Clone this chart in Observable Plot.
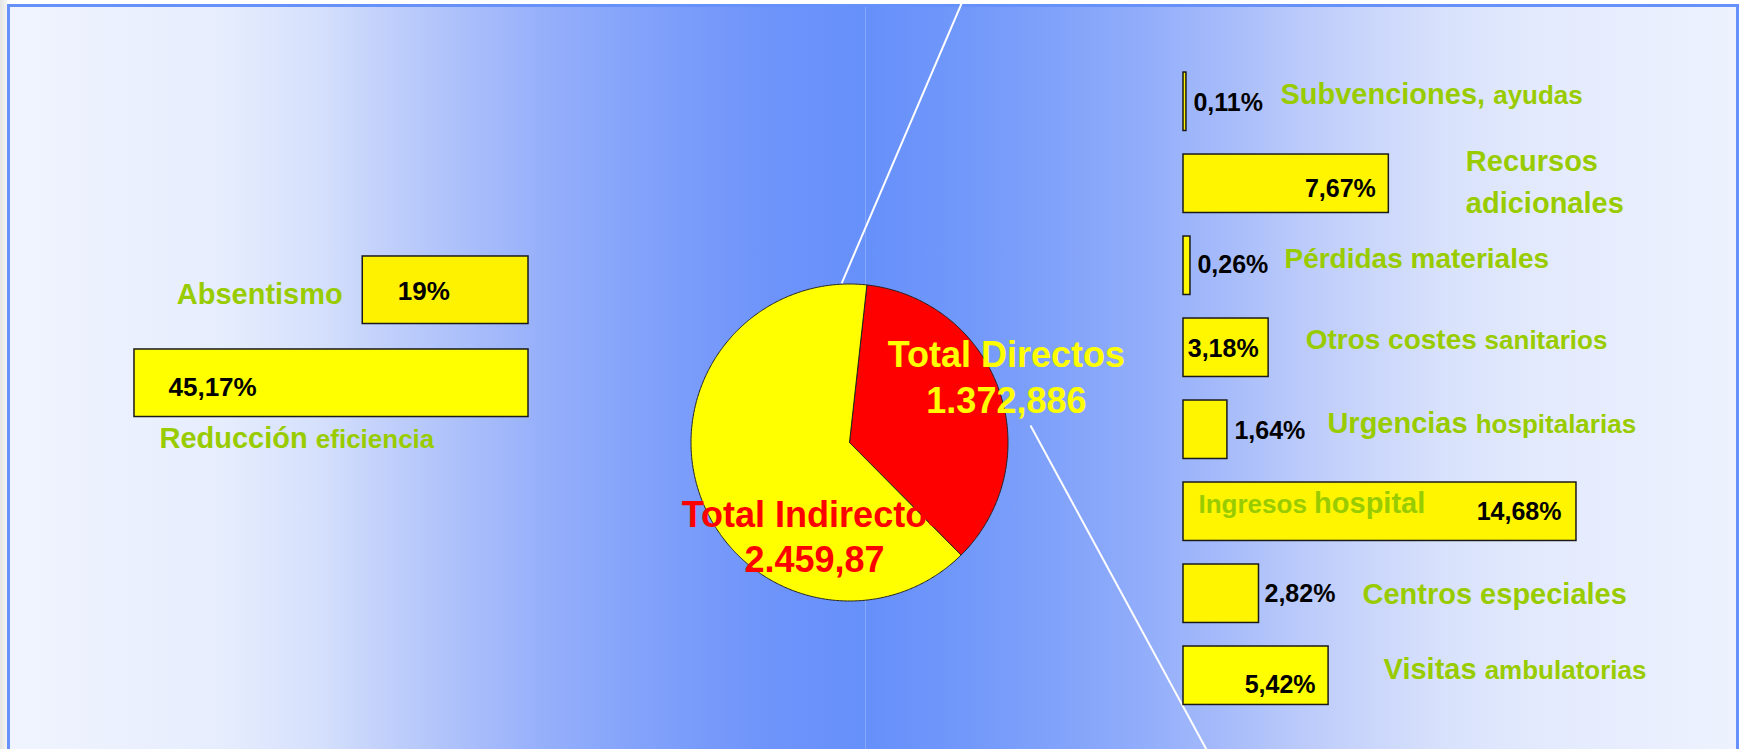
<!DOCTYPE html>
<html lang="es">
<head>
<meta charset="utf-8">
<title>Costes directos e indirectos</title>
<script src="https://cdn.jsdelivr.net/npm/d3@7"></script>
<script src="https://cdn.jsdelivr.net/npm/@observablehq/plot@0.6"></script>
<style>
html,body{margin:0;padding:0;overflow:hidden;background:#fff;}
#stage{position:relative;width:1743px;height:749px;overflow:hidden;
  background:linear-gradient(to right,#e4e4e4 0px,#f4f4f4 7px,#fff 7px);}
#panel{position:absolute;left:7px;top:4px;width:1726px;height:800px;
  border:3px solid #6690FA;border-bottom:none;
  background:linear-gradient(to right,
    #F0F4FE 0px,#E6EDFD 210px,#D5E0FC 310px,#C0CFFB 380px,#A9BEFA 460px,#97B0FA 530px,
    #88A6FA 600px,#7A9CFA 680px,#6E94FA 760px,#6690FA 855px,
    #7097FA 945px,#7FA1FA 1035px,#90ACFA 1125px,#A3B9FA 1205px,#B8C8FA 1280px,
    #CAD6FB 1360px,#D8E2FC 1435px,#E3EAFD 1530px,#EDF2FE 1726px);}
#seam{position:absolute;left:865px;top:7px;width:1px;height:742px;background:rgba(255,255,255,0.22);}
.layer{position:absolute;left:0;top:0;}
</style>
</head>
<body>
<div id="stage"><div id="panel"></div><div id="seam"></div></div>
<script>
// ---------------- data ----------------
const totalCategories = ["Total Directos", "Total Indirectos"];
const totalValues = [1372.886, 2459.87];

const indirectCategories = ["Absentismo", "Reducción eficiencia"];
const indirectShares = [19, 45.17];

const directCategories = [
  "Subvenciones, ayudas", "Recursos adicionales", "Pérdidas materiales",
  "Otros costes sanitarios", "Urgencias hospitalarias", "Ingresos hospital",
  "Centros especiales", "Visitas ambulatorias"
];
const directShares = [0.11, 7.67, 0.26, 3.18, 1.64, 14.68, 2.82, 5.42];

// ---------------- layout & style ----------------
const W = 1743, H = 749;
const FONT = "'Liberation Sans', Arial, Helvetica, sans-serif";
const GREEN = "#99CC00";
const STROKE = "#1a1a1a";
const NARROW_SCALE = 0.88;

const pieFrame = {cx: 849, cy: 442, r: 158.5, startDeg: 6.3};
const leftFrame = {zeroX: 528, pxPerUnit: 8.723, max: 50, top: 230.5, bottom: 442, padding: 0.274};
const rightFrame = {zeroX: 1183, pxPerUnit: 26.77, max: 16, top: 48.5, bottom: 728, padding: 0.287};

const sliceFill = {"Total Directos": "#FF0000", "Total Indirectos": "#FFFF00"};
const pieLabelStyle = {
  "Total Directos": {x: 0.99, y: 0.183, fill: "#FFFF00", lineHeight: 1.28},
  "Total Indirectos": {x: -0.221, y: -0.82, fill: "#FF0000", lineHeight: 1.25}
};
// connector lines of the "bar of pie", in pie-radius units
const connectorLayout = [
  {x1: -0.05, y1: 1.003, x2: 0.72, y2: 2.80},
  {x1: 1.142, y1: 0.107, x2: 2.27, y2: -1.97}
];

const barFill = {
  "Absentismo": "#FFF200", "Reducción eficiencia": "#FFFF00",
  "Subvenciones, ayudas": "#FFF200", "Recursos adicionales": "#FFF500",
  "Pérdidas materiales": "#FFF700", "Otros costes sanitarios": "#FFF700",
  "Urgencias hospitalarias": "#FFF500", "Ingresos hospital": "#FFF500",
  "Centros especiales": "#FFF500", "Visitas ambulatorias": "#FFFF00"
};

// category label placement (px offsets from the bar end, baseline offset from band centre)
const catLabelLayout = {
  "Absentismo": {anchor: "end", dx: -20, dy: 13.5, size: 29},
  "Reducción eficiencia": {anchor: "start", dx: 25, dy: 65, size: 29},
  "Subvenciones, ayudas": {anchor: "start", dx: 94, dy: 2, size: 29},
  "Recursos adicionales": {anchor: "start", dx: 77, dy: 29.5, size: 29, text: "Recursos\nadicionales", lineHeight: 1.45},
  "Pérdidas materiales": {anchor: "start", dx: 94, dy: 2, size: 28},
  "Otros costes sanitarios": {anchor: "start", dx: 37, dy: 1, size: 28},
  "Urgencias hospitalarias": {anchor: "start", dx: 100, dy: 3, size: 29},
  "Ingresos hospital": {anchor: "start", dx: 15, dy: 1, size: 29, atZero: true},
  "Centros especiales": {anchor: "start", dx: 103.5, dy: 10, size: 29},
  "Visitas ambulatorias": {anchor: "start", dx: 55, dy: 3, size: 29}
};
// mixed font sizes inside one label
const labelParts = {
  "Reducción eficiencia": [["Reducción ", 29], ["eficiencia", 26]],
  "Subvenciones, ayudas": [["Subvenciones, ", 29], ["ayudas", 26]],
  "Otros costes sanitarios": [["Otros costes ", 28], ["sanitarios", 26]],
  "Urgencias hospitalarias": [["Urgencias ", 29], ["hospitalarias", 26]],
  "Ingresos hospital": [["Ingresos ", 26], ["hospital", 29]],
  "Visitas ambulatorias": [["Visitas ", 29], ["ambulatorias", 26]]
};
// value label placement
const valueLabelLayout = {
  "Absentismo": {anchor: "start", dx: 35, dy: 9.5},
  "Reducción eficiencia": {anchor: "start", dx: 34, dy: 13},
  "Subvenciones, ayudas": {anchor: "start", dx: 7, dy: 9},
  "Recursos adicionales": {anchor: "end", dx: -13, dy: 13},
  "Pérdidas materiales": {anchor: "start", dx: 7, dy: 7},
  "Otros costes sanitarios": {anchor: "end", dx: -10, dy: 9},
  "Urgencias hospitalarias": {anchor: "start", dx: 7, dy: 9},
  "Ingresos hospital": {anchor: "end", dx: -15, dy: 8},
  "Centros especiales": {anchor: "start", dx: 5.5, dy: 8},
  "Visitas ambulatorias": {anchor: "end", dx: -13, dy: 17}
};

// ---------------- helpers ----------------
const es = d3.formatLocale({decimal: ",", thousands: ".", grouping: [3], currency: ["", " €"]});
const fmt = es.format(",~f");
const stage = document.getElementById("stage");
function addLayer(svg) {
  svg.classList.add("layer");
  svg.querySelectorAll("text").forEach(t => {
    const parts = labelParts[t.textContent];
    if (!parts || t.querySelector("tspan")) return;
    t.textContent = "";
    for (const [str, size] of parts) {
      const ts = document.createElementNS("http://www.w3.org/2000/svg", "tspan");
      ts.setAttribute("font-size", size);
      ts.textContent = str;
      t.appendChild(ts);
    }
  });
  // condensed (narrow) value labels
  svg.querySelectorAll('g[aria-label="narrow"] text').forEach(t => {
    const tr = t.getAttribute("transform");
    if (tr) {
      t.setAttribute("transform", tr + ` scale(${NARROW_SCALE},1)`);
    } else {
      const x = t.getAttribute("x") || 0, y = t.getAttribute("y") || 0;
      t.removeAttribute("x"); t.removeAttribute("y");
      t.setAttribute("transform", `translate(${x},${y}) scale(${NARROW_SCALE},1)`);
    }
  });
  stage.appendChild(svg);
}
const base = {width: W, height: H, style: "background:transparent;overflow:visible;max-width:none;", color: {type: "identity"}};

// ---------------- pie ----------------
const totals = totalCategories.map((name, i) => ({name, value: totalValues[i]}));
const a0 = pieFrame.startDeg * Math.PI / 180;
const arcs = d3.pie().sort(null).value(d => d.value).startAngle(a0).endAngle(a0 + 2 * Math.PI)(totals);
const slices = arcs.map(a => {
  const n = Math.max(2, Math.ceil((a.endAngle - a.startAngle) / (Math.PI / 360)));
  const pts = [{x: 0, y: 0}];
  for (let i = 0; i <= n; i++) {
    const t = a.startAngle + (a.endAngle - a.startAngle) * i / n;
    pts.push({x: Math.sin(t), y: Math.cos(t)});
  }
  pts.push({x: 0, y: 0});
  return {name: a.data.name, pts};
});

addLayer(Plot.plot({
  ...base,
  margin: 0,
  x: {domain: [-pieFrame.cx / pieFrame.r, (W - pieFrame.cx) / pieFrame.r], axis: null},
  y: {domain: [-(H - pieFrame.cy) / pieFrame.r, pieFrame.cy / pieFrame.r], axis: null},
  marks: [
    Plot.link(connectorLayout, {x1: "x1", y1: "y1", x2: "x2", y2: "y2", stroke: "#ffffff", strokeWidth: 2}),
    ...slices.map(s => Plot.line(s.pts, {x: "x", y: "y", fill: sliceFill[s.name], stroke: "#222", strokeWidth: 1, strokeLinejoin: "miter"})),
    ...totals.map(d => Plot.text([d], {
      x: () => pieLabelStyle[d.name].x, y: () => pieLabelStyle[d.name].y,
      text: t => t.name + "\n" + fmt(t.value),
      fill: pieLabelStyle[d.name].fill, fontSize: 36, fontWeight: "bold", fontFamily: FONT,
      lineAnchor: "bottom", lineHeight: pieLabelStyle[d.name].lineHeight, textAnchor: "middle"
    }))
  ]
}));

// ---------------- left bars (indirect costs) ----------------
const leftData = indirectCategories.map((cat, i) => ({cat, value: indirectShares[i]}));
addLayer(Plot.plot({
  ...base,
  marginLeft: leftFrame.zeroX - leftFrame.max * leftFrame.pxPerUnit,
  marginRight: W - leftFrame.zeroX,
  marginTop: leftFrame.top, marginBottom: H - leftFrame.bottom,
  x: {domain: [0, leftFrame.max], reverse: true, axis: null},
  y: {domain: indirectCategories, padding: leftFrame.padding, round: false, axis: null},
  marks: [
    Plot.barX(leftData, {x: "value", y: "cat", fill: d => barFill[d.cat], stroke: STROKE, strokeWidth: 1.5}),
    ...leftData.map(d => Plot.text([d], {
      x: "value", y: "cat", text: t => fmt(t.value) + "%",
      textAnchor: valueLabelLayout[d.cat].anchor, dx: valueLabelLayout[d.cat].dx, dy: valueLabelLayout[d.cat].dy,
      lineAnchor: "bottom", fontSize: 26, fontWeight: "bold", fontFamily: FONT, fill: "#000"
    })),
    ...leftData.map(d => Plot.text([d], {
      x: "value", y: "cat", text: t => t.cat,
      textAnchor: catLabelLayout[d.cat].anchor, dx: catLabelLayout[d.cat].dx, dy: catLabelLayout[d.cat].dy,
      lineAnchor: "bottom", fontSize: catLabelLayout[d.cat].size, fontWeight: "bold", fontFamily: FONT, fill: GREEN
    }))
  ]
}));

// ---------------- right bars (direct costs) ----------------
const rightData = directCategories.map((cat, i) => ({cat, value: directShares[i]}));
addLayer(Plot.plot({
  ...base,
  marginLeft: rightFrame.zeroX,
  marginRight: W - rightFrame.zeroX - rightFrame.max * rightFrame.pxPerUnit,
  marginTop: rightFrame.top, marginBottom: H - rightFrame.bottom,
  x: {domain: [0, rightFrame.max], axis: null},
  y: {domain: directCategories, padding: rightFrame.padding, round: false, axis: null},
  marks: [
    Plot.barX(rightData, {x: "value", y: "cat", fill: d => barFill[d.cat], stroke: STROKE, strokeWidth: 1.5}),
    ...rightData.map(d => Plot.text([d], {
      x: "value", y: "cat", text: t => fmt(t.value) + "%", ariaLabel: "narrow",
      textAnchor: valueLabelLayout[d.cat].anchor, dx: valueLabelLayout[d.cat].dx, dy: valueLabelLayout[d.cat].dy,
      lineAnchor: "bottom", fontSize: 25, fontWeight: "bold", fontFamily: FONT, fill: "#000"
    })),
    ...rightData.map(d => {
      const L = catLabelLayout[d.cat];
      return Plot.text([d], {
        x: t => L.atZero ? 0 : t.value, y: "cat", text: t => L.text || t.cat,
        textAnchor: L.anchor, dx: L.dx, dy: L.dy, lineHeight: L.lineHeight || 1,
        lineAnchor: "bottom", fontSize: L.size, fontWeight: "bold", fontFamily: FONT, fill: GREEN
      });
    })
  ]
}));
</script>
</body>
</html>
